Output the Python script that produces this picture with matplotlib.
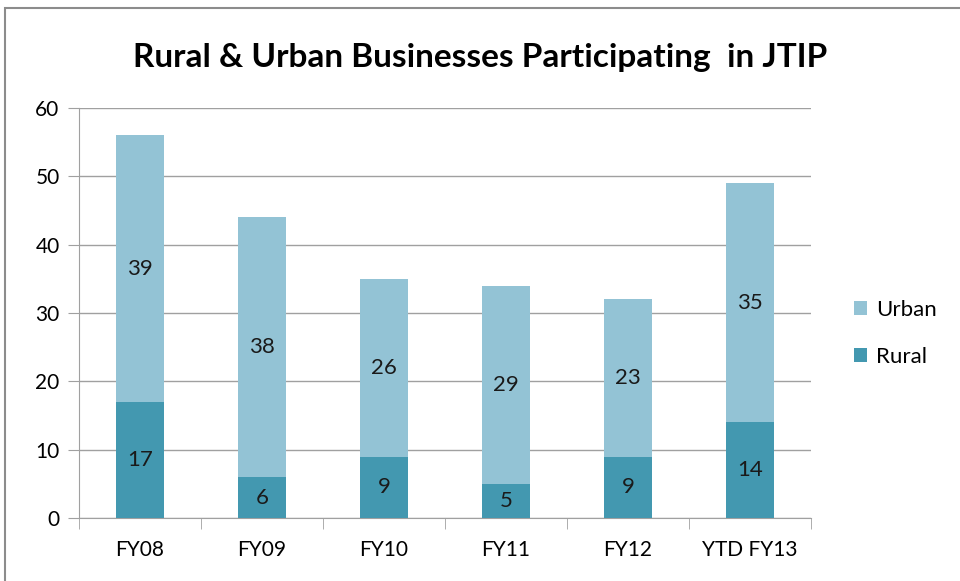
import matplotlib
matplotlib.use("Agg")
import matplotlib.pyplot as plt
from matplotlib.patches import Rectangle
import numpy as np

categories = ["FY08", "FY09", "FY10", "FY11", "FY12", "YTD FY13"]
rural = [17, 6, 9, 5, 9, 14]
urban = [39, 38, 26, 29, 23, 35]

rural_color = "#4398B0"
urban_color = "#93C3D5"
grid_color = "#A0A0A0"

plt.rcParams["font.family"] = ["Lato", "DejaVu Sans"]

fig = plt.figure(figsize=(9.6, 5.81), dpi=100)
ax = fig.add_axes([79 / 960, 1 - 518 / 581, (811 - 79) / 960, (518 - 108) / 581])

# outer chart frame
fig.patches.append(Rectangle((5 / 960, -0.05), 1.2, 1 - 8 / 581 + 0.05,
                             transform=fig.transFigure, fill=False,
                             edgecolor="#8C8C8C", linewidth=1.5))

x = np.arange(len(categories))
w = 0.39
b1 = ax.bar(x, rural, w, color=rural_color, label="Rural", zorder=3)
b2 = ax.bar(x, urban, w, bottom=rural, color=urban_color, label="Urban", zorder=3)

for i in range(len(categories)):
    ax.text(x[i], rural[i] / 2, str(rural[i]), ha="center", va="center",
            fontsize=16, color="#1a1a1a", zorder=4)
    ax.text(x[i], rural[i] + urban[i] / 2, str(urban[i]), ha="center", va="center",
            fontsize=16, color="#1a1a1a", zorder=4)

ax.set_xlim(-0.5, len(categories) - 0.5)
ax.set_ylim(0, 60)
ax.set_yticks(range(0, 61, 10))
ax.yaxis.grid(True, color=grid_color, linewidth=1, zorder=0)
ax.set_xticks(x)
ax.set_xticklabels(categories, fontsize=15)
ax.set_xticks(np.arange(-0.5, len(categories), 1), minor=True)
ax.tick_params(axis="x", which="major", length=0, pad=16)
ax.tick_params(axis="x", which="minor", length=8, color=grid_color, direction="out")
ax.tick_params(axis="y", length=8, color=grid_color, labelsize=15, pad=6)
for s in ["top", "right"]:
    ax.spines[s].set_visible(False)
for s in ["left", "bottom"]:
    ax.spines[s].set_color(grid_color)

handles = [b2, b1]
ax.legend(handles, ["Urban", "Rural"], loc="center left",
          bbox_to_anchor=(1.031, 0.45), frameon=False, fontsize=16,
          handlelength=0.6, handleheight=0.6, handletextpad=0.4, labelspacing=1.2)

fig.text(0.5, 1 - 57 / 581, "Rural & Urban Businesses Participating  in JTIP",
         ha="center", va="center", fontsize=24, fontweight="bold")

fig.savefig("out.png", dpi=100)
